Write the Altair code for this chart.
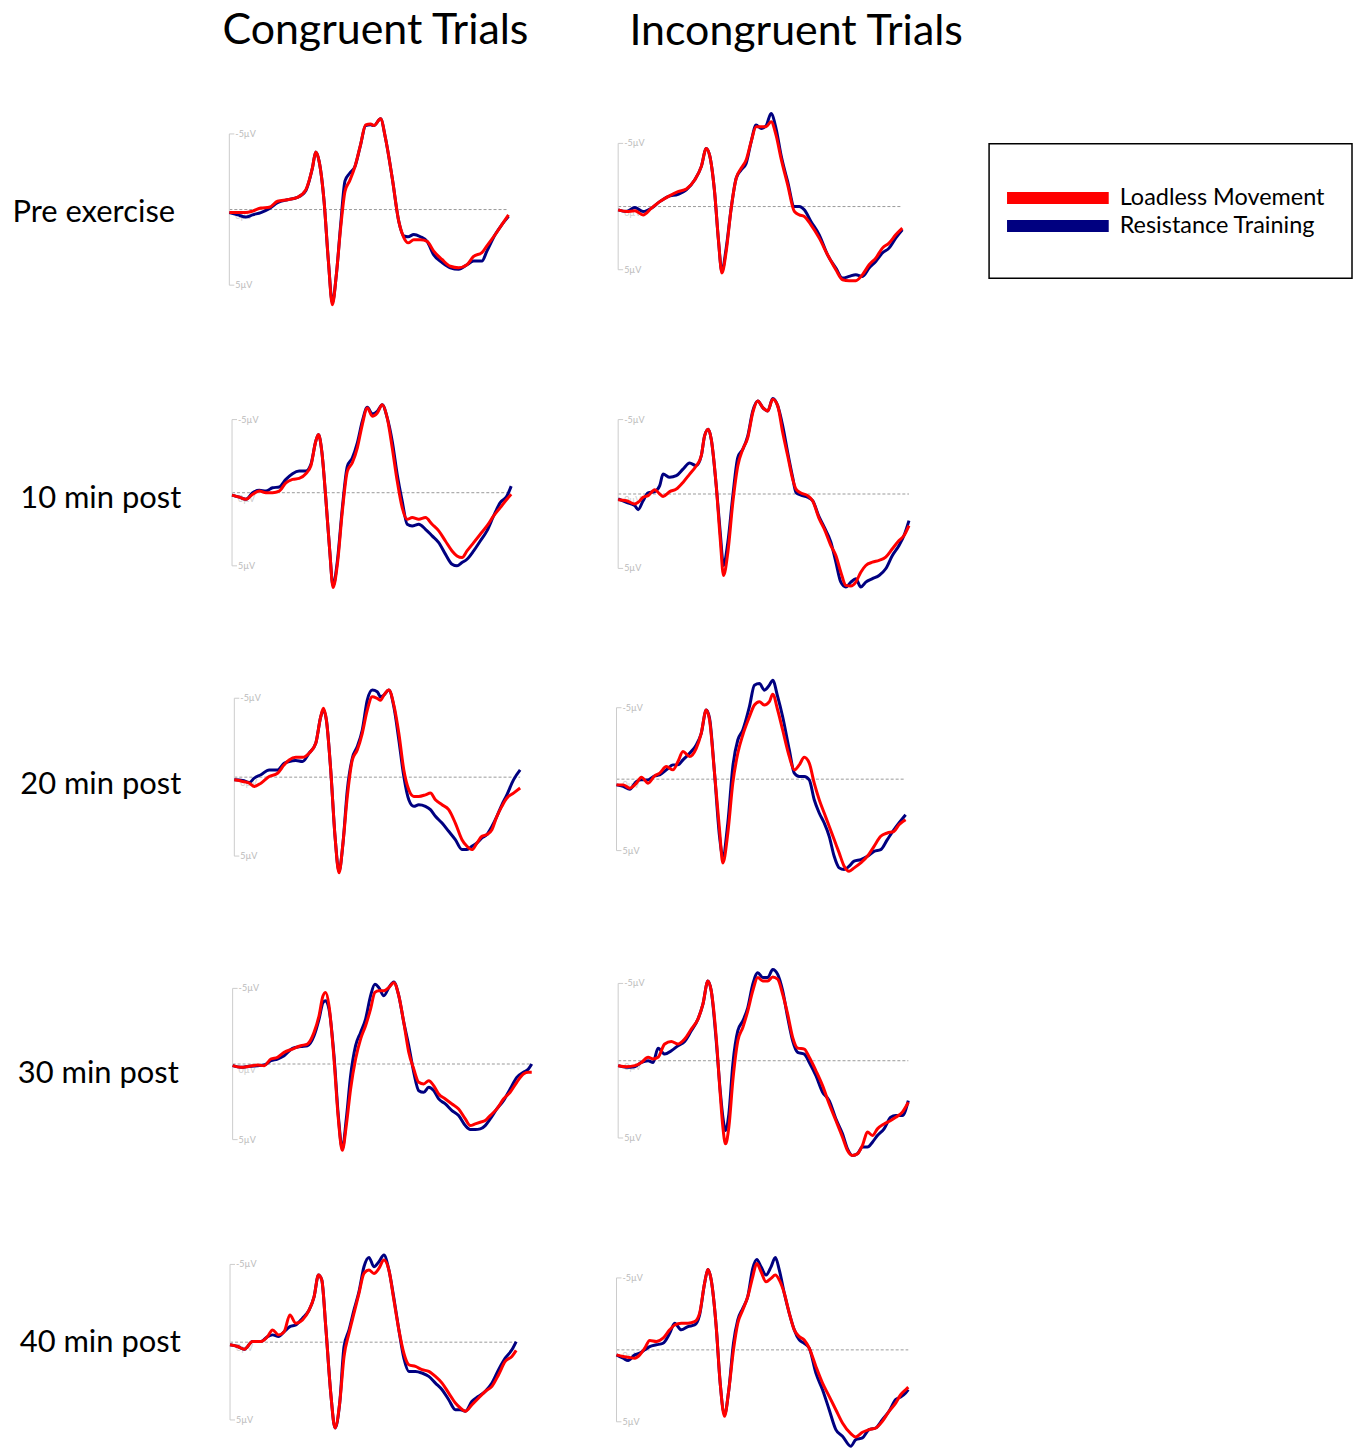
import altair as alt
import pandas as pd

# ---------------- categories / labels ----------------
SERIES = ["Loadless Movement", "Resistance Training"]
COLORS = ["#ff0000", "#000080"]
ROW_LABELS = ["Pre exercise", "10 min post", "20 min post", "30 min post", "40 min post"]
COL_TITLES = ["Congruent Trials", "Incongruent Trials"]
UV_TICKS = [-5, 5]
UV_TICK_LABELS = ["-5\u00b5V", "5\u00b5V"]

# ---------------- ERP waveforms (time in ms, amplitude in µV, negative up) ----------------
# Pre exercise - congruent
T_PRE_CON = [-100, -75, -50, -30, -5, 20, 45, 75, 105, 130, 150, 160, 170, 185, 198, 210, 222, 235, 248, 262,
             278, 295, 310, 325, 335, 355, 370, 390, 410, 425, 438, 455, 475, 495, 515, 540, 565, 590, 615, 635,
             660, 675, 700, 720, 740]
LM_PRE_CON = [0.2, 0.2, 0.2, 0.1, -0.1, -0.15, -0.55, -0.65, -0.8, -1.3, -2.75, -3.8, -3.2, -0.55, 3.4, 6.3, 4.3, 1.2, -1.2, -1.9,
              -2.85, -4.3, -5.6, -5.65, -5.55, -6.0, -4.7, -2.1, 0.8, 1.85, 2.2, 2.0, 2.0, 2.1, 2.75, 3.3, 3.75, 3.85, 3.65, 3.1,
              2.85, 2.4, 1.65, 1.0, 0.35]
RT_PRE_CON = [0.2, 0.35, 0.5, 0.35, 0.2, -0.05, -0.45, -0.65, -0.8, -1.25, -2.75, -3.8, -3.2, -0.55, 3.4, 6.15, 4.3, 1.0, -1.9, -2.4,
              -2.85, -4.3, -5.55, -5.6, -5.55, -6.0, -4.7, -2.1, 0.8, 1.75, 1.8, 1.65, 1.8, 2.1, 3.0, 3.5, 3.85, 3.95, 3.65, 3.4,
              3.4, 2.75, 1.65, 1.0, 0.45]

# Pre exercise - incongruent
T_PRE_INC = [-100, -75, -50, -25, 0, 25, 50, 80, 105, 130, 150, 165, 175, 190, 202, 212, 225, 240, 255, 270,
             285, 300, 315, 330, 345, 360, 375, 390, 410, 430, 445, 460, 480, 505, 530, 555, 575, 595, 615, 635,
             655, 675, 695, 715, 735, 755]
LM_PRE_INC = [0.26, 0.39, 0.34, 0.66, 0.13, -0.39, -0.79, -1.18, -1.39, -2.1, -3.16, -4.6, -4.08, -1.18, 2.76, 5.26, 3.55, 0.13, -2.24, -3.03,
              -3.68, -5.13, -6.32, -6.32, -6.32, -6.71, -5.66, -3.82, -1.71, 0.39, 0.66, 0.79, 1.45, 2.5, 3.82, 5.0, 5.79, 5.87, 5.87, 5.39,
              4.61, 4.08, 3.29, 2.89, 2.24, 1.71]
RT_PRE_INC = [0.26, 0.39, 0.08, 0.39, 0.13, -0.39, -0.79, -0.97, -1.32, -2.1, -3.16, -4.6, -4.08, -1.18, 2.76, 5.13, 3.29, 0.13, -2.24, -2.9,
              -3.42, -5.13, -6.45, -6.18, -6.39, -7.37, -6.18, -4.08, -1.97, 0.0, 0.0, 0.26, 1.18, 2.24, 3.82, 4.87, 5.66, 5.53, 5.39, 5.53,
              4.87, 4.34, 3.68, 3.29, 2.5, 1.84]

# 10 min post - congruent
T_10_CON = [-100, -78, -58, -38, -18, 2, 22, 42, 62, 82, 102, 122, 137, 152, 160, 170, 182, 194, 204, 217,
            232, 247, 262, 277, 292, 307, 322, 337, 352, 367, 382, 397, 412, 427, 442, 462, 482, 502, 522, 542,
            562, 577, 592, 607, 627, 647, 667, 687, 707, 727, 740]
LM_10_CON = [0.16, 0.3, 0.45, 0.11, -0.11, 0.0, 0.0, -0.11, -0.68, -0.91, -0.98, -1.3, -1.82, -3.52, -3.98, -2.84, 0.34, 3.98, 6.48, 4.89,
             1.25, -1.48, -2.05, -3.07, -4.66, -5.8, -5.23, -5.45, -6.02, -5.11, -3.07, -0.8, 1.02, 1.82, 1.7, 1.82, 1.7, 2.16, 2.61, 3.3,
             3.98, 4.32, 4.43, 3.98, 3.41, 2.84, 2.27, 1.59, 1.02, 0.45, 0.11]
RT_10_CON = [0.16, 0.3, 0.45, 0.0, -0.16, -0.11, -0.34, -0.39, -0.91, -1.3, -1.48, -1.48, -1.93, -3.52, -3.98, -2.84, 0.34, 3.98, 6.36, 4.66,
             1.02, -1.82, -2.39, -3.41, -4.89, -5.84, -5.39, -5.57, -6.02, -5.11, -3.52, -1.25, 0.57, 2.16, 2.27, 2.16, 2.5, 2.95, 3.41, 4.2,
             4.89, 5.0, 4.77, 4.55, 3.98, 3.3, 2.61, 1.59, 0.68, 0.23, -0.45]

# 10 min post - incongruent
T_10_INC = [-100, -75, -50, -40, -25, -10, 10, 25, 35, 55, 75, 95, 115, 135, 150, 160, 171, 180, 195, 207,
            217, 230, 245, 260, 275, 290, 305, 320, 335, 350, 365, 380, 395, 410, 425, 435, 450, 470, 485, 505,
            520, 540, 555, 570, 585, 600, 615, 630, 645, 665, 685, 705, 725, 745, 760, 775]
LM_10_INC = [0.38, 0.45, 0.67, 0.56, 0.22, 0.11, -0.29, 0.0, 0.16, -0.16, -0.33, -0.78, -1.34, -1.9, -2.57, -3.91, -4.35, -3.68, -0.56, 3.01,
             5.47, 3.91, 0.56, -1.9, -3.01, -3.79, -5.47, -6.25, -5.8, -5.58, -6.36, -5.92, -4.13, -2.57, -1.0, -0.33, -0.07, 0.11, 0.45, 1.67,
             2.34, 3.46, 4.13, 5.25, 6.14, 6.18, 5.92, 5.25, 4.8, 4.58, 4.46, 4.24, 3.68, 3.13, 2.79, 2.12]
RT_10_INC = [0.33, 0.56, 0.78, 1.05, 0.45, -0.07, -0.16, -0.56, -1.34, -1.12, -1.23, -1.67, -2.08, -1.9, -2.57, -3.91, -4.35, -3.68, -0.56, 2.57,
             4.8, 3.24, 0.11, -2.46, -3.01, -3.91, -5.58, -6.25, -5.8, -5.58, -6.41, -5.92, -4.58, -2.79, -1.12, -0.11, 0.07, 0.22, 0.45, 1.56,
             2.23, 3.24, 4.58, 5.92, 6.25, 5.92, 5.69, 6.25, 5.92, 5.69, 5.47, 5.02, 4.13, 3.46, 2.79, 1.79]

# 20 min post - congruent
T_20_CON = [-100, -75, -55, -40, -20, 5, 30, 50, 65, 85, 105, 125, 145, 160, 168, 177, 190, 203, 215, 227,
            240, 255, 270, 285, 300, 315, 330, 340, 350, 365, 380, 395, 410, 425, 440, 455, 475, 490, 505, 525,
            545, 565, 585, 600, 615, 630, 645, 660, 675, 690, 705, 720, 740, 760]
LM_20_CON = [0.17, 0.27, 0.38, 0.59, 0.38, -0.04, -0.25, -0.78, -1.09, -1.26, -1.26, -1.52, -2.15, -3.83, -4.36, -3.62, -0.46, 3.75, 6.06, 4.17,
             1.22, -1.09, -1.73, -2.78, -4.25, -5.09, -4.99, -4.88, -5.2, -5.52, -4.57, -2.78, -0.46, 0.8, 1.22, 1.22, 1.12, 1.01, 1.43, 1.75,
             2.06, 2.91, 3.96, 4.38, 4.59, 4.17, 3.75, 3.64, 3.33, 2.48, 1.85, 1.33, 1.01, 0.69]
RT_20_CON = [0.17, 0.21, 0.34, 0.06, -0.15, -0.46, -0.46, -0.88, -0.99, -1.05, -0.99, -1.52, -2.15, -3.83, -4.25, -3.62, -0.46, 3.75, 5.96, 4.17,
             0.8, -1.2, -1.94, -2.99, -4.88, -5.52, -5.41, -5.09, -5.2, -5.52, -4.46, -2.36, -0.04, 1.43, 1.85, 1.75, 1.85, 2.06, 2.48, 2.91,
             3.43, 3.96, 4.59, 4.59, 4.38, 4.17, 3.85, 3.64, 3.12, 2.48, 1.75, 1.12, 0.17, -0.46]

# 20 min post - incongruent
T_20_INC = [-100, -80, -60, -40, -25, -5, 15, 30, 50, 70, 85, 100, 120, 140, 155, 170, 180, 195, 210, 220,
            235, 250, 265, 280, 300, 315, 330, 345, 360, 370, 385, 400, 420, 435, 450, 465, 480, 495, 510, 525,
            540, 555, 570, 585, 600, 615, 635, 655, 675, 695, 715, 735, 750, 770]
LM_20_INC = [0.4, 0.4, 0.63, 0.28, -0.14, 0.28, -0.23, -0.42, -0.88, -0.65, -1.23, -1.93, -1.58, -2.16, -3.21, -4.84, -4.14, -0.42, 3.53, 5.86,
             3.77, 0.28, -1.81, -3.09, -4.37, -5.19, -5.42, -5.19, -5.42, -5.95, -4.84, -3.44, -1.58, -0.65, -1.0, -1.53, -1.12, 0.28, 1.44, 2.37,
             3.3, 4.23, 5.16, 6.09, 6.44, 6.21, 5.86, 5.4, 4.7, 4.0, 3.77, 3.65, 3.19, 2.84]
RT_20_INC = [0.4, 0.51, 0.7, 0.16, 0.05, 0.05, -0.23, -0.3, -0.65, -1.0, -1.0, -1.35, -1.81, -2.4, -3.21, -4.84, -4.26, -0.42, 4.0, 5.4,
             3.07, -0.88, -2.74, -3.44, -5.07, -6.58, -6.7, -6.23, -6.58, -6.93, -5.77, -4.37, -2.05, -0.42, -0.19, -0.19, 0.05, 1.44, 2.37, 3.07,
             4.0, 5.4, 6.21, 6.33, 6.09, 5.74, 5.63, 5.4, 5.05, 4.93, 4.23, 3.54, 3.07, 2.49]

# 30 min post - congruent
T_30_CON = [-100, -75, -50, -25, -5, 15, 35, 55, 80, 105, 125, 145, 160, 172, 180, 190, 205, 218, 230, 242,
            255, 270, 285, 300, 315, 328, 340, 355, 370, 385, 400, 415, 430, 445, 460, 475, 490, 505, 520, 540,
            560, 580, 600, 615, 630, 645, 660, 675, 695, 715, 735, 755, 775, 790, 800]
LM_30_CON = [0.11, 0.22, 0.15, 0.07, 0.11, -0.33, -0.44, -0.77, -0.99, -1.21, -1.32, -2.09, -3.19, -4.51, -4.73, -3.85, -0.33, 3.63, 5.71, 4.07,
             1.65, -0.33, -1.65, -2.53, -3.63, -4.73, -4.84, -4.84, -5.05, -5.38, -4.51, -2.75, -0.77, 0.33, 1.21, 1.32, 1.1, 1.43, 1.98, 2.31,
             2.64, 2.97, 3.63, 4.07, 3.96, 3.85, 3.74, 3.41, 2.97, 2.31, 1.87, 1.21, 0.66, 0.55, 0.55]
RT_30_CON = [0.11, 0.22, 0.15, 0.11, 0.07, -0.22, -0.33, -0.55, -1.03, -1.16, -1.21, -1.87, -2.97, -4.07, -4.18, -3.63, -0.55, 3.41, 5.6, 3.63,
             0.77, -1.21, -2.09, -2.97, -4.51, -5.27, -5.05, -4.51, -5.05, -5.43, -4.51, -2.75, -1.21, 0.55, 1.76, 1.87, 1.54, 1.76, 2.31, 2.64,
             3.08, 3.41, 4.07, 4.33, 4.33, 4.29, 4.07, 3.63, 2.97, 2.42, 1.65, 0.88, 0.55, 0.33, 0.0]

# 30 min post - incongruent
T_30_INC = [-100, -75, -50, -30, -10, 5, 20, 40, 60, 80, 100, 120, 140, 155, 170, 180, 195, 207, 215, 223,
            233, 245, 260, 275, 290, 305, 320, 335, 350, 365, 380, 395, 410, 425, 440, 460, 475, 495, 515, 535,
            555, 575, 590, 605, 620, 635, 650, 665, 680, 700, 720, 735, 755, 773]
LM_30_INC = [0.32, 0.39, 0.32, 0.11, -0.22, -0.11, -0.22, -1.08, -1.25, -1.08, -1.4, -2.04, -2.69, -3.66, -5.16, -4.52, -1.51, 2.15, 4.3, 5.38,
             4.3, 1.29, -1.29, -2.15, -3.23, -4.52, -5.38, -5.16, -5.16, -5.42, -5.27, -4.3, -3.01, -1.51, -0.82, -0.75, -0.22, 0.65, 1.61, 2.8,
             3.87, 4.95, 5.81, 6.13, 6.02, 5.48, 4.62, 4.84, 4.41, 4.09, 3.87, 3.66, 3.33, 2.69]
RT_30_INC = [0.32, 0.43, 0.39, 0.11, 0.0, 0.11, -0.8, -0.43, -0.65, -0.97, -1.25, -1.94, -2.69, -3.66, -5.16, -4.52, -1.29, 1.94, 3.66, 4.52,
             3.44, 0.22, -1.94, -2.58, -3.44, -4.95, -5.7, -5.38, -5.38, -5.91, -5.59, -4.52, -2.8, -1.29, -0.54, -0.43, 0.11, 0.97, 2.04, 2.58,
             3.76, 4.73, 5.7, 6.13, 6.02, 5.59, 5.59, 5.27, 4.84, 4.41, 3.66, 3.55, 3.55, 2.58]

# 40 min post - congruent
T_40_CON = [-100, -77, -57, -32, -7, 13, 28, 46, 63, 80, 98, 118, 138, 153, 166, 176, 188, 203, 216, 230,
            243, 258, 273, 288, 303, 318, 333, 348, 363, 378, 393, 408, 423, 438, 458, 478, 498, 518, 538, 558,
            578, 593, 608, 628, 648, 668, 688, 708, 728, 748, 761]
LM_40_CON = [0.17, 0.28, 0.45, -0.04, -0.04, -0.36, -0.79, -0.47, -0.68, -1.75, -1.22, -1.43, -2.07, -2.93, -4.32, -4.0, -1.0, 3.27, 5.51, 3.91,
             0.92, -0.58, -1.86, -3.14, -4.42, -4.64, -4.42, -4.74, -5.28, -4.64, -2.71, -0.79, 0.71, 1.45, 1.56, 1.77, 1.88, 2.2, 2.63, 3.27,
             3.91, 4.23, 4.44, 4.02, 3.59, 3.16, 2.84, 2.09, 1.24, 0.92, 0.53]
RT_40_CON = [0.17, 0.28, 0.45, -0.04, -0.04, -0.36, -0.47, -0.36, -0.68, -1.0, -1.11, -1.54, -2.07, -2.93, -4.32, -4.0, -1.0, 3.27, 5.51, 3.91,
             0.28, -0.79, -2.07, -3.25, -4.85, -5.45, -4.85, -5.17, -5.6, -4.64, -2.82, -0.79, 1.03, 1.88, 1.88, 1.99, 2.2, 2.63, 3.06, 3.7,
             4.34, 4.34, 4.44, 3.8, 3.48, 3.16, 2.63, 1.77, 1.03, 0.49, -0.04]

# 40 min post - incongruent
T_40_INC = [-100, -80, -65, -45, -30, -15, 0, 20, 40, 60, 75, 95, 115, 135, 150, 165, 175, 185, 200, 212,
            225, 238, 252, 265, 280, 295, 310, 322, 335, 350, 365, 378, 390, 405, 420, 435, 450, 465, 480, 500,
            520, 540, 560, 580, 605, 620, 640, 660, 680, 700, 720, 740, 755, 770, 778]
LM_40_INC = [0.35, 0.46, 0.51, 0.58, 0.35, -0.12, -0.65, -0.58, -0.81, -1.39, -1.73, -1.85, -1.85, -1.96, -2.54, -4.62, -5.59, -4.85, -1.62, 2.31,
             4.62, 2.77, 0.0, -1.85, -2.77, -3.7, -5.08, -6.0, -5.43, -4.73, -4.97, -5.2, -4.85, -3.93, -2.54, -1.39, -0.92, -0.69, -0.12, 1.15,
             2.31, 3.23, 4.16, 5.08, 5.82, 6.05, 5.73, 5.54, 5.43, 4.97, 4.27, 3.7, 3.12, 2.77, 2.59]
RT_40_INC = [0.35, 0.58, 0.74, 0.35, 0.23, 0.0, -0.23, -0.35, -0.46, -1.15, -1.85, -1.39, -1.62, -1.73, -2.42, -4.62, -5.59, -4.85, -1.62, 2.31,
             4.5, 2.77, -0.46, -2.08, -2.89, -3.7, -5.66, -6.28, -5.77, -5.2, -5.77, -6.42, -5.54, -3.93, -2.54, -1.39, -0.69, -0.46, -0.12, 1.62,
             2.77, 4.16, 5.54, 6.0, 6.7, 6.24, 6.12, 5.54, 5.43, 4.85, 4.27, 3.46, 3.28, 3.0, 2.77]

PANELS = [
    [(T_PRE_CON, LM_PRE_CON, RT_PRE_CON), (T_PRE_INC, LM_PRE_INC, RT_PRE_INC)],
    [(T_10_CON, LM_10_CON, RT_10_CON), (T_10_INC, LM_10_INC, RT_10_INC)],
    [(T_20_CON, LM_20_CON, RT_20_CON), (T_20_INC, LM_20_INC, RT_20_INC)],
    [(T_30_CON, LM_30_CON, RT_30_CON), (T_30_INC, LM_30_INC, RT_30_INC)],
    [(T_40_CON, LM_40_CON, RT_40_CON), (T_40_INC, LM_40_INC, RT_40_INC)],
]

# ---------------- layout (pixels) ----------------
FONT = "Lato"
LABEL_W = 142
PANEL_W = [310, 304]
ROW_H = [285, 285, 285, 285, 215]
HEADER_H = 84
HEADER_BASELINE = [29, 30]
COL_SPACING = 76
MS_PER_PX = 3.0
TICK_MS = 15
LINE_W = 3.0
# per panel: (px from panel left to epoch start, px from row top to 0 µV, px per µV)
GEOM = [
    [(4.0, 111.0, 15.17), (8.0, 108.0, 12.67)],
    [(6.7, 110.0, 14.67), (8.0, 111.3, 14.93)],
    [(9.0, 110.3, 15.83), (6.3, 112.3, 14.33)],
    [(7.3, 113.0, 15.17), (8.0, 109.7, 15.50)],
    [(4.7, 107.0, 15.60), (6.3, 114.7, 14.43)],
]
LABEL_X = [86, 93, 93, 90.5, 92.5]
LABEL_BASELINE = [123, 125, 127, 132, 117]
LEGEND_Y = [99.5, 127.5]
LEGEND_W = 364

color_enc = alt.Color("series:N", scale=alt.Scale(domain=SERIES, range=COLORS), legend=None)


def panel(r, c):
    t, lm, rt = PANELS[r][c]
    x_off, z, s = GEOM[r][c]
    w = PANEL_W[c]
    h = ROW_H[r]
    t_left = t[0] - x_off * MS_PER_PX
    xs = alt.Scale(domain=[t_left, t_left + w * MS_PER_PX], nice=False, zero=False)
    ys = alt.Scale(domain=[-z / s, (h - z) / s], reverse=True, nice=False, zero=False)

    def X(f):
        return alt.X(f, scale=xs, axis=None)

    def Y(f):
        return alt.Y(f, scale=ys, axis=None)

    zero = alt.Chart(pd.DataFrame({"t": [t[0]], "t_end": [t[-1]], "uv": [0.0]})).mark_rule(
        color="#9a9a9a", strokeDash=[3, 2], strokeWidth=1
    ).encode(x=X("t:Q"), x2="t_end:Q", y=Y("uv:Q"))

    br = pd.DataFrame({
        "t": [t[0], t[0], t[0]],
        "t_end": [t[0], t[0] + TICK_MS, t[0] + TICK_MS],
        "uv": [UV_TICKS[0], UV_TICKS[0], UV_TICKS[1]],
        "uv_end": [UV_TICKS[1], UV_TICKS[0], UV_TICKS[1]],
    })
    bracket = alt.Chart(br).mark_rule(color="#cccccc", strokeWidth=1).encode(
        x=X("t:Q"), x2="t_end:Q", y=Y("uv:Q"), y2="uv_end:Q"
    )
    labs = pd.DataFrame({"t": [t[0] + TICK_MS] * 2, "uv": UV_TICKS, "lab": UV_TICK_LABELS})
    tick_text = alt.Chart(labs).mark_text(
        align="left", baseline="middle", dx=1, fontSize=9, font=FONT, color="#bbbbbb"
    ).encode(x=X("t:Q"), y=Y("uv:Q"), text="lab:N")
    zero_text = alt.Chart(pd.DataFrame({"t": [t[0] + TICK_MS], "uv": [0.0], "lab": ["0\u00b5V"]})).mark_text(
        align="left", baseline="top", dx=1, dy=2, fontSize=9, font=FONT, color="#cccccc"
    ).encode(x=X("t:Q"), y=Y("uv:Q"), text="lab:N")

    df = pd.concat([
        pd.DataFrame({"t": t, "uv": lm, "series": SERIES[0]}),
        pd.DataFrame({"t": t, "uv": rt, "series": SERIES[1]}),
    ], ignore_index=True)
    base = alt.Chart(df)
    blue = base.transform_filter(alt.datum.series == SERIES[1]).mark_line(
        strokeWidth=LINE_W, interpolate="monotone"
    ).encode(x=X("t:Q"), y=Y("uv:Q"), color=color_enc)
    red = base.transform_filter(alt.datum.series == SERIES[0]).mark_line(
        strokeWidth=LINE_W, interpolate="monotone"
    ).encode(x=X("t:Q"), y=Y("uv:Q"), color=color_enc)

    return alt.layer(zero, bracket, tick_text, zero_text, blue, red).properties(width=w, height=h)


def row_label(r):
    return alt.Chart(pd.DataFrame({"label": [ROW_LABELS[r]]})).mark_text(
        font=FONT, fontSize=31, align="center", baseline="alphabetic", color="black"
    ).encode(
        text="label:N", x=alt.value(LABEL_X[r]), y=alt.value(LABEL_BASELINE[r])
    ).properties(width=LABEL_W, height=ROW_H[r])


def legend_chart():
    box = alt.Chart(pd.DataFrame({"k": [0]})).mark_rect(
        fill="white", stroke="black", strokeWidth=1.5
    ).encode(x=alt.value(0), x2=alt.value(LEGEND_W), y=alt.value(45), y2=alt.value(180))
    layers = [box]
    for name, yv in zip(SERIES, LEGEND_Y):
        d = pd.DataFrame({"series": [name]})
        layers.append(alt.Chart(d).mark_rule(strokeWidth=12).encode(
            x=alt.value(18), x2=alt.value(120), y=alt.value(yv), color=color_enc
        ))
        layers.append(alt.Chart(d).mark_text(
            align="left", baseline="middle", font=FONT, fontSize=23.5, color="black"
        ).encode(x=alt.value(131), y=alt.value(yv), text="series:N"))
    return alt.layer(*layers).properties(width=LEGEND_W, height=ROW_H[0])


header = alt.layer(
    alt.Chart(pd.DataFrame({"title": [COL_TITLES[0]]})).mark_text(
        font=FONT, fontSize=43, align="center", baseline="alphabetic", color="black"
    ).encode(text="title:N", x=alt.value(368.5), y=alt.value(HEADER_BASELINE[0])),
    alt.Chart(pd.DataFrame({"title": [COL_TITLES[1]]})).mark_text(
        font=FONT, fontSize=43, align="center", baseline="alphabetic", color="black"
    ).encode(text="title:N", x=alt.value(790.5), y=alt.value(HEADER_BASELINE[1])),
).properties(width=900, height=HEADER_H)

rows = []
for r in range(5):
    items = [row_label(r), panel(r, 0), panel(r, 1)]
    if r == 0:
        items.append(legend_chart())
    rows.append(
        alt.hconcat(*items, spacing=COL_SPACING, bounds="flush").resolve_scale(
            x="independent", y="independent"
        )
    )

chart = alt.vconcat(header, *rows, spacing=0).resolve_scale(
    x="independent", y="independent"
).properties(padding=0).configure_view(strokeWidth=0)

chart.save("out.html", embed_options={"renderer": "svg", "actions": False})
